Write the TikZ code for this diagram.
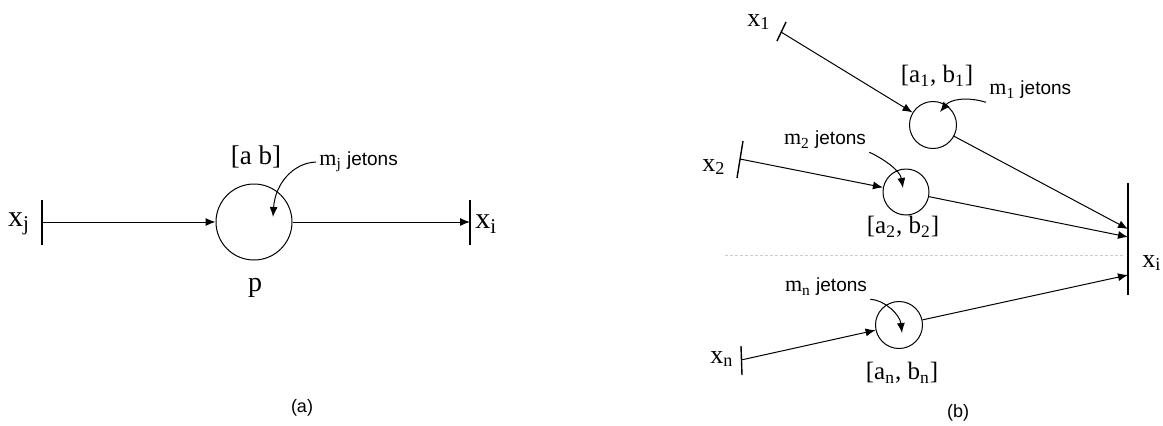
\documentclass[tikz,border=0pt]{standalone}
\usepackage{fontspec}
\setmainfont{Liberation Serif}
\setsansfont{Liberation Sans}
\usetikzlibrary{arrows.meta}

\newcommand{\tokm}[1]{{\rmfamily\fontsize{11}{11}\selectfont m\textsubscript{#1}}}

\begin{document}
\begin{tikzpicture}[x=0.5pt, y=-0.5pt,
  flow/.style={-{Latex[length=5pt, width=4pt]}, line width=0.5pt},
  bar/.style={line width=0.7pt},
  place/.style={draw, circle, line width=0.5pt, inner sep=0pt},
  varlbl/.style={font=\fontsize{15}{15}\selectfont, inner sep=0pt},
  ivlbl/.style={font=\fontsize{12.5}{12.5}\selectfont, inner sep=0pt},
  toklbl/.style={font=\sffamily\fontsize{9.5}{9.5}\selectfont, inner sep=1.5pt},
  sublbl/.style={font=\sffamily\fontsize{9}{9}\selectfont, inner sep=0pt},
]
\useasboundingbox (0,0) rectangle (1163,425);

%% ── (a) Single place between two transitions ─────────────────────────────────
\coordinate (tj) at (42,222);
\coordinate (ti) at (470,222);
\draw[bar] (42,200) -- (42,245);
\draw[bar] (470,200) -- (470,245);

\node[place, minimum size=38pt] (p) at (254,222) {};
\coordinate (pin) at (273,217);

\draw[flow] (tj) -- (p);
\draw[flow] (p) -- (ti);

\node[varlbl] (xj) at (19,224) {x\textsubscript{j}};
\node[varlbl, anchor=west] (xia) at (475,224) {x\textsubscript{i}};
\node[ivlbl, font=\fontsize{13.5}{13.5}\selectfont] (iv) at (256,157) {[a b]};
\node[ivlbl, font=\fontsize{14}{14}\selectfont] (pl) at (255,288) {p};

\node[toklbl, anchor=west] (mj) at (316,162) {\tokm{j} jetons};
\draw[flow] (mj.west) .. controls (292,163) and (275,185) .. (pin);

\node[sublbl] (capa) at (302,408) {(a)};

%% ── (b) Several places feeding one transition ────────────────────────────────
\coordinate (x1) at (781,32);
\coordinate (x2) at (740,159);
\coordinate (xn) at (741,360);
\draw[bar] (786,22) -- (777,41);
\draw[bar] (743,141) -- (737,178);
\draw[bar] (741,346) -- (742,375);

\coordinate (ti1) at (1128,229);
\coordinate (ti2) at (1128,237);
\coordinate (tin) at (1128,275);
\draw[bar] (1128,183) -- (1128,295);

\node[place, minimum size=23.5pt] (p1) at (933,125) {};
\node[place, minimum size=23pt]   (p2) at (906,192) {};
\node[place, minimum size=23.5pt] (pn) at (899,325) {};
\coordinate (p1in) at (940,112);
\coordinate (p2in) at (903,188);
\coordinate (pnin) at (902,333);

\draw[flow] (x1) -- (p1);
\draw[flow] (x2) -- (p2);
\draw[flow] (xn) -- (pn);
\draw[flow] (p1) -- (ti1);
\draw[flow] (p2) -- (ti2);
\draw[flow] (pn) -- (tin);

\draw[dashed, dash pattern=on 1.5pt off 1pt, gray!40, line width=0.5pt] (725,255) -- (1125,255);

%% ── (b) labels ──────────────────────────────────────────────────────────────
\node[varlbl, font=\fontsize{13}{13}\selectfont] (lx1) at (759,22) {x\textsubscript{1}};
\node[varlbl, font=\fontsize{13}{13}\selectfont] (lx2) at (714,167) {x\textsubscript{2}};
\node[varlbl, font=\fontsize{13}{13}\selectfont] (lxn) at (722,359) {x\textsubscript{n}};
\node[varlbl, font=\fontsize{13}{13}\selectfont] (lxi) at (1152,263) {x\textsubscript{i}};

\node[ivlbl] (iv1) at (937,76)  {[a\textsubscript{1}, b\textsubscript{1}]};
\node[ivlbl] (iv2) at (903,227) {[a\textsubscript{2}, b\textsubscript{2}]};
\node[ivlbl] (ivn) at (902,373) {[a\textsubscript{n}, b\textsubscript{n}]};

\node[toklbl, anchor=west] (m1) at (986,90) {\tokm{1} jetons};
\node[toklbl] (m2) at (825,140) {\tokm{2} jetons};
\node[toklbl] (mn) at (826,287) {\tokm{n} jetons};

\draw[flow] (m1.south west) .. controls (965,96) and (950,100) .. (p1in);
\draw[flow] (m2.south east) .. controls (882,158) and (900,170) .. (p2in);
\draw[flow] (mn.south east) .. controls (885,300) and (900,315) .. (pnin);

\node[sublbl] (capb) at (958,413) {(b)};

\end{tikzpicture}
\end{document}
